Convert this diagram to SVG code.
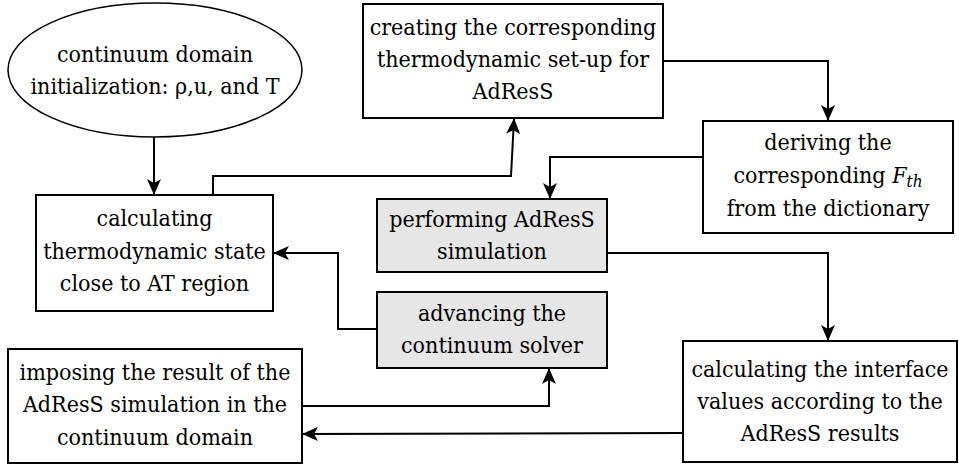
<svg xmlns="http://www.w3.org/2000/svg" width="959" height="466" viewBox="0 0 959 466">
<style>
.node{fill:#ffffff;stroke:#000;stroke-width:2}
.grey{fill:#e6e6e6;stroke:#000;stroke-width:2}
.t{font-family:'DejaVu Serif Condensed','DejaVu Serif',serif;font-stretch:condensed;font-size:23px;fill:#000;text-anchor:middle}
.c{fill:none;stroke:#000;stroke-width:2}
</style>
<defs>
<marker id="arr" viewBox="0 0 16 14" refX="15" refY="7" markerWidth="16" markerHeight="14" markerUnits="userSpaceOnUse" orient="auto">
<path d="M0,0 L16,7 L0,14 L4,7 z" fill="#000"/>
</marker>
</defs>
<rect width="959" height="466" fill="#fff"/>
<g id="connectors">
<path class="c" marker-end="url(#arr)" d="M154,137 L154,194"/>
<path class="c" marker-end="url(#arr)" d="M213,195 L213,176 L511,176 L514,119"/>
<path class="c" marker-end="url(#arr)" d="M663,61 L828,61 L828,120"/>
<path class="c" marker-end="url(#arr)" d="M703,157 L550,157 L550,198"/>
<path class="c" marker-end="url(#arr)" d="M607,253 L828,253 L828,340"/>
<path class="c" marker-end="url(#arr)" d="M377,329 L338,329 L338,253 L274,253"/>
<path class="c" marker-end="url(#arr)" d="M302,406 L549,406 L549,369"/>
<path class="c" marker-end="url(#arr)" d="M683,433 L303,434"/>
</g>
<g id="n1">
<ellipse class="node" cx="155" cy="70" rx="147" ry="67" style="stroke-width:1.5"/>
<text class="t" x="155" y="62">continuum domain</text>
<text class="t" x="155" y="94">initialization: ρ,u, and T</text>
</g>
<g id="n2">
<rect class="node" x="36" y="195" width="237" height="116"/>
<text class="t" x="154.5" y="226">calculating</text>
<text class="t" x="154.5" y="259">thermodynamic state</text>
<text class="t" x="154.5" y="291">close to AT region</text>
</g>
<g id="n3">
<rect class="node" x="363" y="4" width="300" height="114"/>
<text class="t" x="513" y="35">creating the corresponding</text>
<text class="t" x="513" y="67">thermodynamic set-up for</text>
<text class="t" x="513" y="99">AdResS</text>
</g>
<g id="n4">
<rect class="node" x="703" y="121" width="250" height="112"/>
<text class="t" x="828" y="150">deriving the</text>
<text class="t" x="828" y="183">corresponding <tspan font-style="italic">F</tspan><tspan font-style="italic" font-size="17" dy="4">th</tspan></text>
<text class="t" x="828" y="216">from the dictionary</text>
</g>
<g id="n5">
<rect class="grey" x="377" y="199" width="230" height="73"/>
<text class="t" x="492" y="227">performing AdResS</text>
<text class="t" x="492" y="259">simulation</text>
</g>
<g id="n6">
<rect class="grey" x="377" y="292" width="230" height="76"/>
<text class="t" x="492" y="321">advancing the</text>
<text class="t" x="492" y="353">continuum solver</text>
</g>
<g id="n7">
<rect class="node" x="8" y="349" width="294" height="114"/>
<text class="t" x="155" y="380">imposing the result of the</text>
<text class="t" x="155" y="412">AdResS simulation in the</text>
<text class="t" x="155" y="445">continuum domain</text>
</g>
<g id="n8">
<rect class="node" x="683" y="341" width="274" height="121"/>
<text class="t" x="820" y="377">calculating the interface</text>
<text class="t" x="820" y="409">values according to the</text>
<text class="t" x="820" y="441">AdResS results</text>
</g>
</svg>
